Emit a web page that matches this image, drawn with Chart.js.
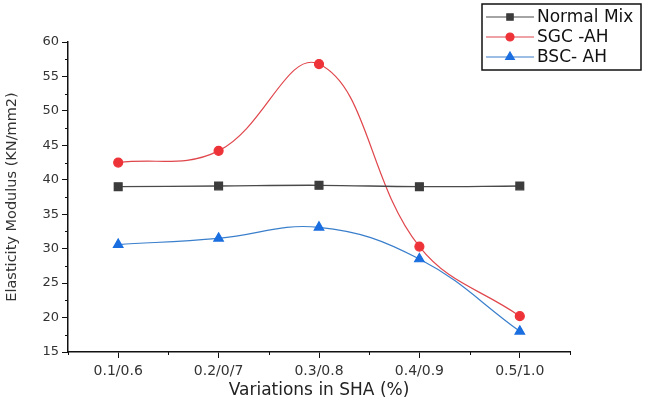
<!DOCTYPE html>
<html>
<head>
<meta charset="utf-8">
<script src="https://cdn.jsdelivr.net/npm/chart.js@4"></script>
<style>
  body { margin: 0; background: #fff; }
  #wrap { width: 654px; height: 405px; }
</style>
</head>
<body>
<div id="wrap"><canvas id="chartSha"></canvas></div>
<script>
const variaciones = ["0.1/0.6", "0.2/0/7", "0.3/0.8", "0.4/0.9", "0.5/1.0"];
const normalMix = [39.0, 39.1, 39.2, 39.0, 39.1];
const sgcAh = [42.5, 44.2, 56.8, 30.3, 20.2];
const bscAh = [30.6, 31.5, 33.1, 28.5, 18.0];
const yTicks = [15, 20, 25, 30, 35, 40, 45, 50, 55, 60];

const fuente = "'DejaVu Sans', sans-serif";

// ticks menores y leyenda con recuadro, dibujados con las escalas del chart
const extrasPlugin = {
    id: "extras",
    afterDraw(chart) {
        const ctx = chart.ctx;
        const x = chart.scales.x;
        const y = chart.scales.y;
        ctx.save();
        ctx.strokeStyle = "#111";
        ctx.lineWidth = 1;
        for (let v = yTicks[0] + 2.5; v < yTicks[yTicks.length - 1]; v += 5) {
            const py = Math.round(y.getPixelForValue(v)) + 0.5;
            ctx.beginPath();
            ctx.moveTo(x.left - 3, py);
            ctx.lineTo(x.left, py);
            ctx.stroke();
        }
        for (let i = 0; i <= variaciones.length; i++) {
            const px = Math.round(x.getPixelForValue(i - 0.5)) + 0.5;
            ctx.beginPath();
            ctx.moveTo(px, y.bottom);
            ctx.lineTo(px, y.bottom + 3);
            ctx.stroke();
        }

        // leyenda
        const bx = 482, by = 4, bw = 159, bh = 66;
        ctx.fillStyle = "#fff";
        ctx.fillRect(bx, by, bw, bh);
        ctx.lineWidth = 1.5;
        ctx.strokeStyle = "#111";
        ctx.strokeRect(bx, by, bw, bh);
        const radios = [4.5, 4, 5];
        chart.data.datasets.forEach((ds, i) => {
            const cy = by + 13 + i * 20;
            ctx.strokeStyle = ds.borderColor;
            ctx.lineWidth = 1.2;
            ctx.beginPath();
            ctx.moveTo(bx + 4, cy);
            ctx.lineTo(bx + 52, cy);
            ctx.stroke();
            ctx.fillStyle = ds.pointBackgroundColor;
            ctx.strokeStyle = ds.pointBackgroundColor;
            Chart.helpers.drawPoint(ctx, {
                pointStyle: ds.pointStyle,
                radius: radios[i],
                borderWidth: 1
            }, bx + 28, cy);
            ctx.fillStyle = "#111";
            ctx.font = "17px " + fuente;
            ctx.textBaseline = "middle";
            ctx.fillText(ds.label, bx + 55, cy + 1);
        });
        ctx.restore();
    }
};

const dataSha = {
    labels: variaciones,
    datasets: [
        {
            label: "Normal Mix",
            data: normalMix,
            borderColor: "#4a4a4a",
            pointBackgroundColor: "#3c3c3c",
            pointBorderColor: "#3c3c3c",
            pointStyle: "rect",
            pointRadius: 5.5,
            borderWidth: 1.3,
            tension: 0.4,
        },
        {
            label: "SGC -AH",
            data: sgcAh,
            borderColor: "#e0474c",
            pointBackgroundColor: "#ee3338",
            pointBorderColor: "#ee3338",
            pointStyle: "circle",
            pointRadius: 4.5,
            borderWidth: 1.2,
            tension: 0.4,
        },
        {
            label: "BSC- AH",
            data: bscAh,
            borderColor: "#3a7fcc",
            pointBackgroundColor: "#1a6ee0",
            pointBorderColor: "#1a6ee0",
            pointStyle: "triangle",
            pointRadius: 5.5,
            borderWidth: 1.2,
            tension: 0.4,
        },
    ],
};

const configSha = {
    type: "line",
    data: dataSha,
    options: {
        responsive: true,
        maintainAspectRatio: false,
        animation: false,
        layout: {
            padding: { left: 0, top: 42, right: 84, bottom: 0 },
        },
        plugins: {
            legend: { display: false },
            tooltip: { enabled: false },
        },
        scales: {
            x: {
                offset: true,
                grid: {
                    offset: false,
                    drawOnChartArea: false,
                    drawTicks: true,
                    tickLength: 6,
                    color: "#111",
                },
                border: { color: "#111", width: 1.5 },
                ticks: {
                    color: "#333",
                    font: { size: 14, family: fuente },
                    padding: 5,
                    maxRotation: 0,
                },
                title: {
                    display: true,
                    text: "Variations in SHA (%)",
                    color: "#222",
                    font: { size: 17, family: fuente },
                    padding: { top: 3 },
                },
                afterFit(scale) {
                    scale.height = 53;
                },
            },
            y: {
                min: 15,
                max: 60,
                afterBuildTicks(scale) {
                    scale.ticks = yTicks.map((v) => ({ value: v }));
                },
                grid: {
                    drawOnChartArea: false,
                    drawTicks: true,
                    tickLength: 6,
                    color: "#111",
                },
                border: { color: "#111", width: 1.5 },
                ticks: {
                    color: "#333",
                    font: { size: 13, family: fuente },
                    padding: 3,
                },
                title: {
                    display: true,
                    text: "Elasticity Modulus (KN/mm2)",
                    color: "#333",
                    font: { size: 14.5, family: fuente },
                    padding: { bottom: 4 },
                },
                afterFit(scale) {
                    scale.width = 68;
                },
            },
        },
    },
    plugins: [extrasPlugin],
};

const chartSha = new Chart(document.getElementById("chartSha"), configSha);
</script>
</body>
</html>
